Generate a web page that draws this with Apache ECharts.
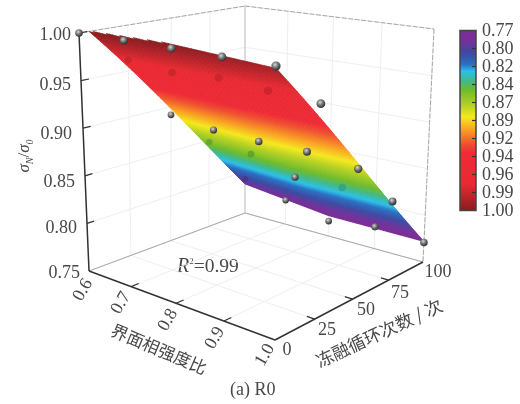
<!DOCTYPE html>
<html><head><meta charset="utf-8">
<style>html,body{margin:0;padding:0;background:#fff}#c{width:520px;height:404px;filter:blur(0.4px)}</style>
<script src="https://cdn.jsdelivr.net/npm/echarts@6/dist/echarts.min.js"></script>
</head><body><div id="c"></div>
<script>
// ---------- data ----------
var ratios = [0.6, 0.7, 0.8, 0.9, 1.0];
var cycles = [0, 25, 50, 75, 100];
var strengthTicks = [0.75, 0.80, 0.85, 0.90, 0.95, 1.00];
var strengthLabels = ['0.75', '0.80', '0.85', '0.90', '0.95', '1.00'];
var ratioLabels = ['0.6', '0.7', '0.8', '0.9', '1.0'];
var cycleLabels = ['0', '25', '50', '75', '100'];
var colorbarLabels = ['0.77','0.80','0.82','0.84','0.87','0.89','0.92','0.94','0.96','0.99','1.00'];
// measured strength, one row per freeze-thaw count
var row0   = [1.000, 0.998, 0.996, 0.994, 0.992];
var row25  = [0.962, 0.956, 0.958, 0.953, 0.949];
var row50  = [0.891, 0.884, 0.882, 0.882, 0.876];
var row75  = [0.848, 0.845, 0.831, 0.832, 0.830];
var row100 = [0.791, 0.778, 0.767, 0.774, 0.771];
// 1 = the point lies beneath the fitted surface
var under0   = [0, 0, 0, 0, 0];
var under25  = [1, 1, 1, 1, 0];
var under50  = [0, 0, 0, 0, 0];
var under75  = [1, 1, 0, 1, 0];
var under100 = [1, 0, 0, 0, 0];
// fitted surface at ratio 0.6, 0.8, 1.0 (clipped at the top of the box)
var surfaceAt0   = [1.011, 1.000, 0.990];
var surfaceAt100 = [0.785, 0.773, 0.772];
// colour ramp
var rampStops  = [0, 0.06, 0.13, 0.19, 0.23, 0.28, 0.33, 0.42, 0.48, 0.55, 0.63, 0.68, 0.85, 1];
var rampColors = ['#7b2c96','#75309a','#3d4aa2','#2a70c2','#2cc0ea','#3fb98c','#6cba2e','#b8d222','#f5e81f','#f9a222','#ef5030','#ee2a36','#e82a32','#861c20'];

// ---------- view geometry ----------
var FLOOR = {a:[89,271], b:[275,340], c:[245,213], d:[423,262]};
var TOP   = {a:[79,33],  b:[276,57],  c:[245,6],   d:[434,29]};
var F = '"Liberation Serif",serif', CJK = '"Noto Sans CJK SC",sans-serif', TXT = '#484848';
function warp(s, a){ return a*s/(1+(a-1)*s); }
function bil(q, u, v){
  return [0,1].map(function(i){ return (1-v)*((1-u)*q.a[i]+u*q.b[i]) + v*((1-u)*q.c[i]+u*q.d[i]); });
}
function project(r, n, z){
  var t = (z-0.75)/0.25;
  var u = warp((r-0.6)/0.4, 0.88), v = warp(n/100, 1.1+0.15*t);
  var f = bil(FLOOR,u,v), p = bil(TOP,u,v);
  return [f[0]+(p[0]-f[0])*t, f[1]+(p[1]-f[1])*t];
}
function hex(c){ return [1,3,5].map(function(i){ return parseInt(c.substr(i,2),16); }); }
function rampAt(t){
  t = Math.max(0,Math.min(1,t));
  for (var i=0;i<rampStops.length-1;i++){
    if (t<=rampStops[i+1]){
      var k=(t-rampStops[i])/(rampStops[i+1]-rampStops[i]), a=hex(rampColors[i]), b=hex(rampColors[i+1]);
      return [0,1,2].map(function(j){ return Math.round(a[j]+(b[j]-a[j])*k); });
    }
  }
  return hex(rampColors[rampColors.length-1]);
}
function colorOf(z, dim){
  var c = rampAt((z-0.77)/0.23); dim = dim||1;
  return 'rgb('+c.map(function(v){return Math.round(v*dim);}).join(',')+')';
}
function alongRatio(row, u){
  return u<0.5 ? row[0]+(row[1]-row[0])*u*2 : row[1]+(row[2]-row[1])*(u-0.5)*2;
}
function surfaceZ(r, n){
  var u=(r-0.6)/0.4, v=n/100;
  return (1-v)*alongRatio(surfaceAt0,u) + v*alongRatio(surfaceAt100,u);
}

// ---------- frame ----------
function seg(a,b,stroke,w,dash){
  return {type:'line', shape:{x1:a[0],y1:a[1],x2:b[0],y2:b[1]}, style:{stroke:stroke,lineWidth:w,lineDash:dash||null}, silent:true};
}
function frameItem(){
  var ch=[], g='#efefef', e='#a8a8a8';
  ratios.forEach(function(r){
    ch.push(seg(project(r,0,0.75),project(r,100,0.75),g,1));
    ch.push(seg(project(r,100,0.75),project(r,100,1),g,1));
  });
  cycles.forEach(function(n){
    ch.push(seg(project(0.6,n,0.75),project(1,n,0.75),g,1));
    ch.push(seg(project(0.6,n,0.75),project(0.6,n,1),g,1));
  });
  strengthTicks.forEach(function(z){
    ch.push(seg(project(0.6,0,z),project(0.6,100,z),g,1));
    ch.push(seg(project(0.6,100,z),project(1,100,z),g,1));
  });
  ch.push(seg(project(0.6,0,1),project(0.6,100,1),e,1,[5,1.5]));
  ch.push(seg(project(0.6,100,1),project(1,100,1),e,1,[5,1.5]));
  ch.push(seg(project(1,100,1),project(1,100,0.75),e,1,[5,1.5]));
  ch.push(seg(project(0.6,100,1),project(0.6,100,0.75),'#c4c4c4',1));
  ch.push(seg(project(0.6,0,0.75),project(0.6,100,0.75),e,1));
  ch.push(seg(project(0.6,100,0.75),project(1,100,0.75),e,1));
  var k='#333', w=1.5;
  ch.push(seg(project(0.6,0,1),project(0.6,0,0.75),k,w));
  ch.push(seg(project(0.6,0,0.75),project(1,0,0.75),k,w));
  ch.push(seg(project(1,0,0.75),project(1,100,0.75),k,w));
  strengthTicks.slice(1).forEach(function(z){ ch.push(seg(project(0.6,0,z),project(0.6,4,z),k,1.2)); });
  ratios.slice(1,4).forEach(function(r){ ch.push(seg(project(r,0,0.75),project(r,4.5,0.75),k,1.2)); });
  cycles.slice(1,4).forEach(function(n){ ch.push(seg(project(1,n,0.75),project(0.985,n,0.75),k,1.2)); });
  return {type:'group', children:ch};
}

// ---------- surface cells (index only; heights come from the surface arrays) ----------
var NU=60, NV=120, cells=[];
for (var i=0;i<NU;i++) for (var j=0;j<NV;j++) cells.push([i,j]);
function surfaceItem(params, api){
  var i=api.value(0), j=api.value(1);
  var r0=0.6+0.4*i/NU, r1=0.6+0.4*(i+1)/NU, n0=100*j/NV, n1=100*(j+1)/NV;
  var zc=surfaceZ((r0+r1)/2,(n0+n1)/2);
  if (zc>1) return null;
  var pts=[[r0,n0],[r1,n0],[r1,n1],[r0,n1]].map(function(q){ return project(q[0],q[1],surfaceZ(q[0],q[1])); });
  var col=colorOf(zc);
  return {type:'polygon', shape:{points:pts}, style:{fill:col,stroke:col,lineWidth:0.7}, silent:true};
}

// ---------- points ----------
var rows=[row0,row25,row50,row75,row100], unders=[under0,under25,under50,under75,under100], pointData=[];
cycles.forEach(function(n,ri){ ratios.forEach(function(r,ci){ pointData.push([r,n,rows[ri][ci],unders[ri][ci]]); }); });
function pointItem(params, api){
  var r=api.value(0), n=api.value(1), z=api.value(2), h=api.value(3);
  var p=project(r,n,z), s=3+1.6*(((r-0.6)/0.4)+(1-n/100))/2;
  if (h) return {type:'circle', shape:{cx:p[0],cy:p[1],r:s}, style:{fill:colorOf(z,0.86),opacity:0.85}, silent:true};
  return {type:'circle', shape:{cx:p[0],cy:p[1],r:s}, silent:true, style:{
    fill:{type:'radial',x:0.4,y:0.35,r:0.65,colorStops:[{offset:0,color:'#d8d8d8'},{offset:0.45,color:'#7d7d7d'},{offset:1,color:'#2e2e2e'}]}}};
}

// ---------- text and colour bar ----------
function text(x,y,s,font,rot,align,extra){
  var st={text:s,font:font,fill:TXT,align:align||'center',verticalAlign:'middle'};
  if (extra) for (var k in extra) st[k]=extra[k];
  return {type:'text',x:x,y:y,rotation:(rot||0)*Math.PI/180,style:st,silent:true};
}
var graphics=[];
var zRight=[80,77,75,72,71,71], zY=[273,228,182,134,85,35];
strengthLabels.forEach(function(s,i){ graphics.push(text(zRight[i],zY[i],s,'18px '+F,0,'right')); });
var rX=[83,121,168,215,265], rY=[290,303,320,338,355];
ratioLabels.forEach(function(s,i){ graphics.push(text(rX[i],rY[i],s,'18px '+F,60)); });
var nX=[287,327,366,400,438], nY=[350,330,310,293,272];
cycleLabels.forEach(function(s,i){ graphics.push(text(nX[i],nY[i],s,'18px '+F)); });
graphics.push(text(159,349,'界面相强度比','17px '+CJK,-23));
graphics.push(text(379,333,'冻融循环次数 / 次','17.5px '+CJK,25));
graphics.push(text(230,390,'(a) R0','18px '+F,0,'left'));
graphics.push(text(177,267,'{i|R}{s|2}{n|=0.99}','18px '+F,0,'left',{rich:{
  i:{font:'italic 20px '+F,fill:TXT}, s:{font:'9px '+F,fill:TXT,verticalAlign:'top',lineHeight:18}, n:{font:'19.5px '+F,fill:TXT}}}));
graphics.push(text(25,156,'{i|σ}{s|N}{n|/}{i|σ}{s|0}','16px '+F,90,'center',{rich:{
  i:{font:'italic 17px '+F,fill:TXT}, s:{font:'italic 10px '+F,fill:TXT,verticalAlign:'bottom',lineHeight:20}, n:{font:'17px '+F,fill:TXT}}}));
var BX=460, BY=30.5, BW=16, BH=180;
graphics.push({type:'rect',shape:{x:BX,y:BY,width:BW,height:BH},silent:true,style:{
  fill:{type:'linear',x:0,y:0,x2:0,y2:1,colorStops:rampStops.map(function(o,i){return {offset:o,color:rampColors[i]};})},
  stroke:'#444',lineWidth:1.5}});
colorbarLabels.forEach(function(s,i){
  var y=BY+BH*i/(colorbarLabels.length-1);
  graphics.push(text(482,y+1,s,'18px '+F,0,'left'));
  if (i>0 && i<colorbarLabels.length-1) graphics.push({type:'line',silent:true,shape:{x1:BX+BW-4,y1:y,x2:BX+BW,y2:y},style:{stroke:'#333',lineWidth:1.2}});
});

var chart=echarts.init(document.getElementById('c'),null,{renderer:'canvas'});
chart.setOption({
  animation:false,
  backgroundColor:'#fff',
  graphic:{elements:graphics},
  series:[
    {type:'custom',coordinateSystem:'none',z:1,data:[[0]],renderItem:frameItem,silent:true},
    {type:'custom',coordinateSystem:'none',z:2,data:cells,renderItem:surfaceItem,silent:true},
    {type:'custom',coordinateSystem:'none',z:3,data:pointData,renderItem:pointItem,silent:true}
  ]
});
</script></body></html>
